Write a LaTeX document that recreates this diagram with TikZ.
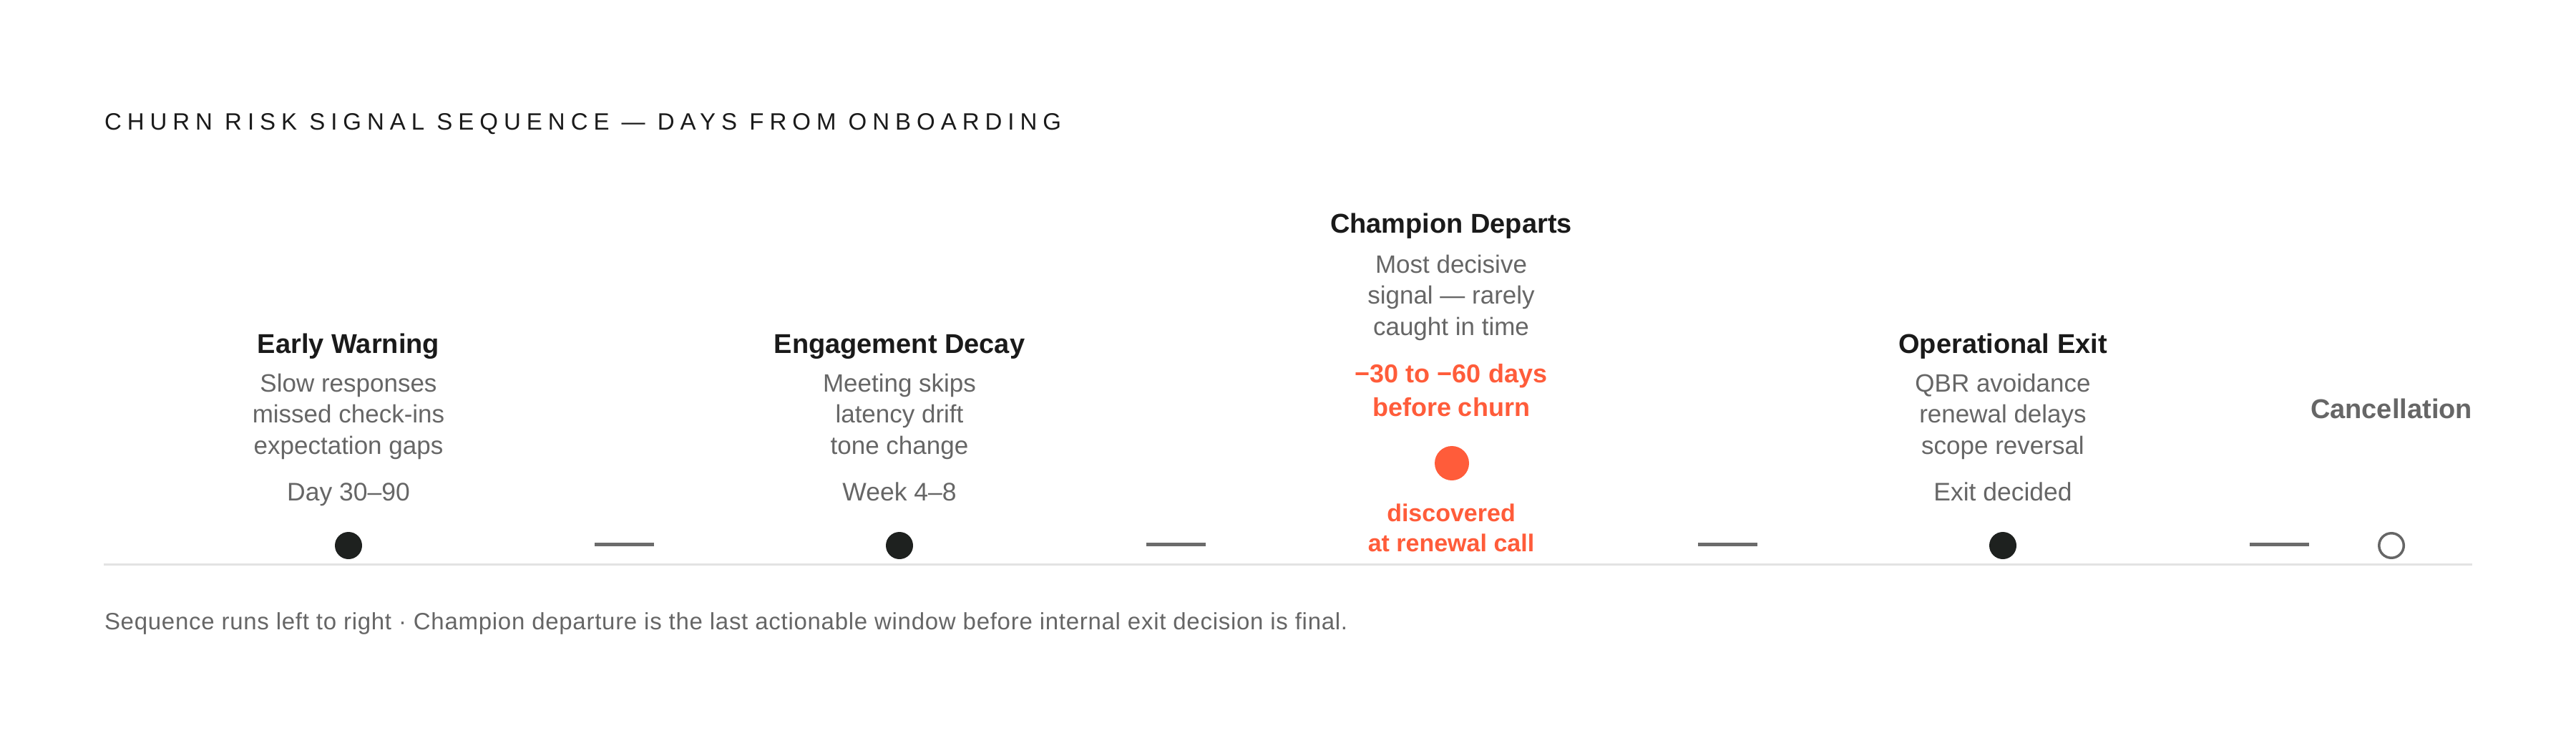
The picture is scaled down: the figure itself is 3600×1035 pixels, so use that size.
\documentclass[tikz,border=0pt]{standalone}
\usepackage{fontspec}
\setmainfont{Liberation Sans}
\newfontfamily\titlefont[LetterSpace=24.2]{Liberation Sans}
\newfontfamily\footfont[LetterSpace=2.2]{Liberation Sans}
\definecolor{ink}{HTML}{1A1A1A}
\definecolor{muted}{HTML}{666666}
\definecolor{dotc}{HTML}{1E211F}
\definecolor{alertc}{HTML}{FF5C3A}
\definecolor{dashc}{HTML}{6B6B6B}
\definecolor{rulec}{HTML}{E3E3E3}
\begin{document}
\begin{tikzpicture}[x=1pt,y=-1pt,
  every node/.style={inner sep=0pt, outer sep=0pt},
  head/.style={anchor=base, font=\fontsize{38}{46}\selectfont\bfseries, text=ink},
  desc/.style={anchor=base, align=center, font=\fontsize{35}{43.5}\selectfont, text=muted},
  period/.style={anchor=base, font=\fontsize{35.5}{43}\selectfont, text=muted},
  alert/.style={anchor=base, align=center, font=\fontsize{36}{47}\selectfont\bfseries, text=alertc},
  dotmark/.style={circle, fill=dotc, minimum size=38pt},
  tick/.style={draw=dashc, line width=5pt},
]
\useasboundingbox[fill=white] (0,0) rectangle (3600,1035);

% title
\node[anchor=base west, font=\titlefont\fontsize{33}{40}\selectfont, text=ink] (title) at (146,182)
  {CHURN RISK SIGNAL SEQUENCE — DAYS FROM ONBOARDING};

% baseline rule
\coordinate (ruleL) at (145,788.5);
\coordinate (ruleR) at (3455,788.5);
\draw[rulec, line width=3.5pt] (ruleL) -- (ruleR);

% column 1 (multi-line nodes: base = last line)
\node[head] (h1) at (487,493) {Early Warning};
\node[desc] (d1) at (487,634) {Slow responses\\missed check-ins\\expectation gaps};
\node[period] (p1) at (487,699) {Day 30–90};
\node[dotmark] (m1) at (487,762) {};

% column 2
\node[head] (h2) at (1257,493) {Engagement Decay};
\node[desc] (d2) at (1257,634) {Meeting skips\\latency drift\\tone change};
\node[period] (p2) at (1257,699) {Week 4–8};
\node[dotmark] (m2) at (1257,762) {};

% column 3
\node[head] (h3) at (2028,325.5) {Champion Departs};
\node[desc] (d3) at (2028,468) {Most decisive\\signal — rarely\\caught in time};
\node[alert] (a3) at (2028,581) {−30 to −60 days\\before churn};
\node[circle, fill=alertc, minimum size=48pt] (m3) at (2029,647) {};
\node[alert, font=\fontsize{34}{42}\selectfont\bfseries] (b3) at (2028,770) {discovered\\at renewal call};

% column 4
\node[head] (h4) at (2799,493) {Operational Exit};
\node[desc] (d4) at (2799,634) {QBR avoidance\\renewal delays\\scope reversal};
\node[period] (p4) at (2799,699) {Exit decided};
\node[dotmark] (m4) at (2799,762) {};

% column 5
\node[head, text=muted] (h5) at (3342,584) {Cancellation};
\node[circle, draw=muted, line width=3.5pt, fill=white, minimum size=34.5pt] (m5) at (3342,762) {};

% separators
\coordinate (s1a) at (831,760); \coordinate (s1b) at (914,760);
\coordinate (s2a) at (1602,760); \coordinate (s2b) at (1685,760);
\coordinate (s3a) at (2373,760); \coordinate (s3b) at (2456,760);
\coordinate (s4a) at (3144,760); \coordinate (s4b) at (3227,760);
\draw[tick] (s1a) -- (s1b);
\draw[tick] (s2a) -- (s2b);
\draw[tick] (s3a) -- (s3b);
\draw[tick] (s4a) -- (s4b);

% footer
\node[anchor=base west, font=\footfont\fontsize{33}{40}\selectfont, text=muted] (foot) at (146,879)
  {Sequence runs left to right · Champion departure is the last actionable window before internal exit decision is final.};
\end{tikzpicture}
\end{document}
